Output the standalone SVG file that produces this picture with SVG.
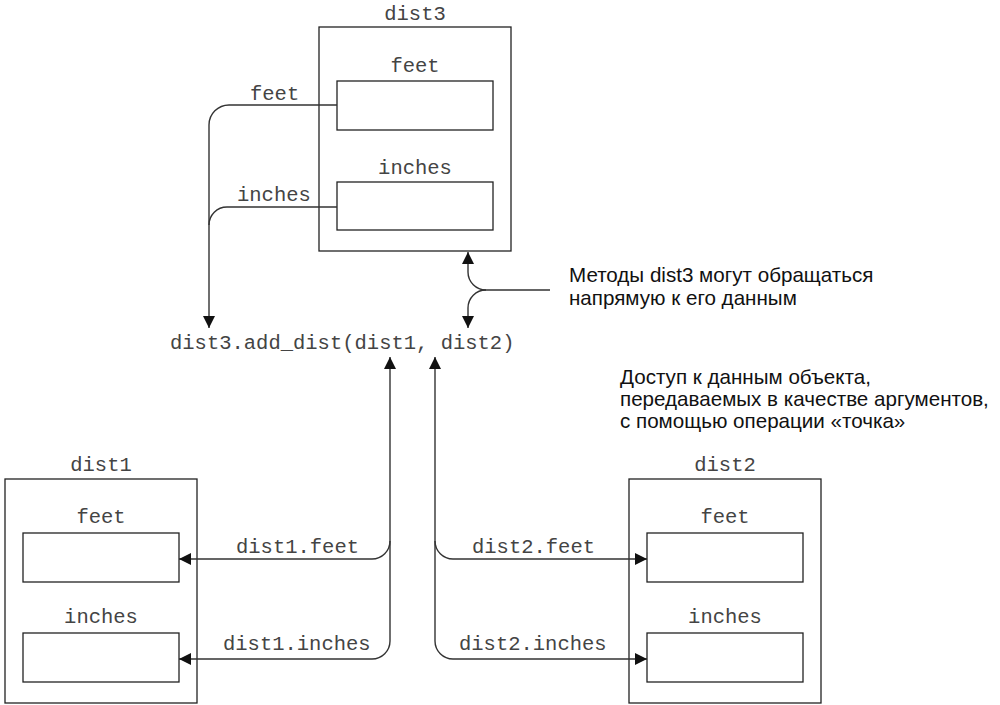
<svg xmlns="http://www.w3.org/2000/svg" width="1000" height="705" viewBox="0 0 1000 705">
<style>
.box{fill:none;stroke:#222;stroke-width:1.3}
.ln{fill:none;stroke:#333;stroke-width:1.4}
.mono{font-family:"Liberation Mono","Courier New",monospace;font-size:20.5px;fill:#444}
.sans{font-family:"Liberation Sans",Arial,sans-serif;font-size:20.6px;fill:#111}
.c{text-anchor:middle}
</style>
<defs>
<marker id="ah" viewBox="0 0 12 12" refX="12" refY="6" markerWidth="12" markerHeight="12" markerUnits="userSpaceOnUse" orient="auto">
<path d="M0,0 L12,6 L0,12 Z" fill="#111"/>
</marker>
</defs>
<rect width="1000" height="705" fill="#fff"/>
<g id="dist3">
<text class="mono c" x="415" y="20">dist3</text>
<rect class="box" x="319" y="27" width="192" height="224"/>
<text class="mono c" x="415" y="72">feet</text>
<rect class="box" x="337" y="81" width="156" height="49"/>
<text class="mono c" x="415" y="174">inches</text>
<rect class="box" x="337" y="182" width="156" height="48"/>
</g>
<g id="dist1">
<text class="mono c" x="101" y="471">dist1</text>
<rect class="box" x="5" y="479" width="192" height="224"/>
<text class="mono c" x="101" y="523">feet</text>
<rect class="box" x="23" y="533" width="156" height="49"/>
<text class="mono c" x="101" y="623">inches</text>
<rect class="box" x="23" y="633" width="156" height="49"/>
</g>
<g id="dist2">
<text class="mono c" x="725" y="471">dist2</text>
<rect class="box" x="629" y="479" width="192" height="224"/>
<text class="mono c" x="725" y="523">feet</text>
<rect class="box" x="647" y="533" width="156" height="49"/>
<text class="mono c" x="725" y="623">inches</text>
<rect class="box" x="647" y="633" width="156" height="49"/>
</g>
<g id="call">
<text class="mono" x="170" y="349">dist3.add_dist(dist1, dist2)</text>
</g>
<g id="notes">
<text class="sans" x="569" y="282">Методы dist3 могут обращаться</text>
<text class="sans" x="569" y="305">напрямую к его данным</text>
<text class="sans" x="620" y="384">Доступ к данным объекта,</text>
<text class="sans" x="620" y="406">передаваемых в качестве аргументов,</text>
<text class="sans" x="620" y="428">с помощью операции «точка»</text>
</g>
<g id="connectors">
<path class="ln" d="M337,105 H229 A20 20 0 0 0 209 125 V328" marker-end="url(#ah)"/>
<path class="ln" d="M337,207 H227 A18 18 0 0 0 209 225"/>
<text class="mono" x="250" y="100">feet</text>
<text class="mono" x="237" y="201">inches</text>
<path class="ln" d="M550,290 H486 A18 18 0 0 1 468 272 V252" marker-end="url(#ah)"/>
<path class="ln" d="M486,290 A18 18 0 0 0 468 308 V328" marker-end="url(#ah)"/>
<path class="ln" d="M390,641 V357" marker-end="url(#ah)"/>
<path class="ln" d="M390,541 A18 18 0 0 1 372 559 H179" marker-end="url(#ah)"/>
<path class="ln" d="M390,641 A18 18 0 0 1 372 659 H179" marker-end="url(#ah)"/>
<path class="ln" d="M435,641 V357" marker-end="url(#ah)"/>
<path class="ln" d="M435,541 A18 18 0 0 0 453 559 H647" marker-end="url(#ah)"/>
<path class="ln" d="M435,641 A18 18 0 0 0 453 659 H647" marker-end="url(#ah)"/>
<text class="mono" x="236" y="553">dist1.feet</text>
<text class="mono" x="223" y="650">dist1.inches</text>
<text class="mono" x="472" y="553">dist2.feet</text>
<text class="mono" x="459" y="650">dist2.inches</text>
</g>
</svg>
